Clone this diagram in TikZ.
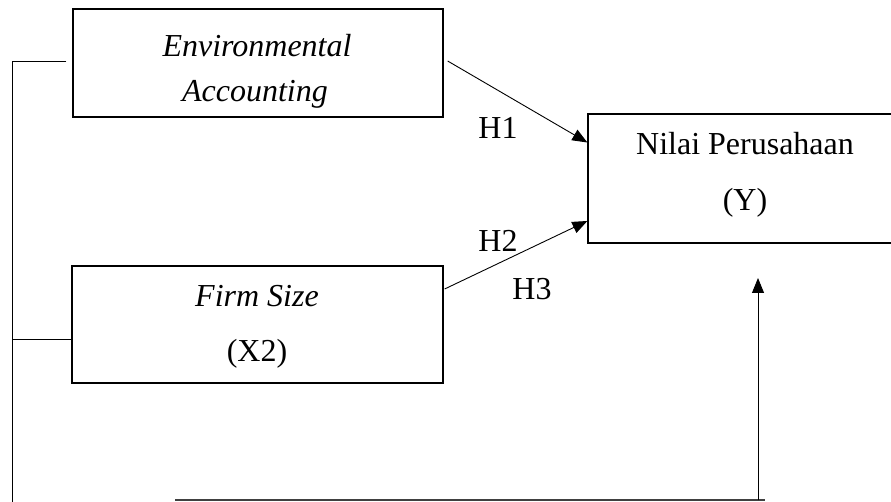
\documentclass[tikz,border=0pt]{standalone}
\usepackage{fontspec}
\setmainfont{Liberation Serif}
\usetikzlibrary{arrows.meta}
\begin{document}
\begin{tikzpicture}[x=1pt, y=-1pt, >={Triangle[length=15pt,width=12pt]},
    varbox/.style={draw, line width=1.3pt, inner sep=0pt},
    txt/.style={anchor=base, inner sep=0pt, font=\fontsize{32}{38}\selectfont},
    link/.style={line width=0.9pt}]
    \useasboundingbox (0,0) rectangle (891,502);
    \clip (0,0) rectangle (891,502);

    % Independent variables
    \node[varbox, minimum width=370pt, minimum height=108pt] (env) at (258,63) {};
    \node[txt] (envA) at (257,57) {\textit{Environmental}};
    \node[txt] (envB) at (255,102) {\textit{Accounting}};

    \node[varbox, minimum width=371pt, minimum height=117pt] (firm) at (257.5,324.5) {};
    \node[txt] (firmA) at (257,307) {\textit{Firm Size}};
    \node[txt] (firmB) at (257,362) {(X2)};

    % Dependent variable
    \node[varbox, minimum width=317pt, minimum height=129pt] (nilai) at (746.5,178.5) {};
    \node[txt] (nilaiA) at (745,155) {Nilai Perusahaan};
    \node[txt] (nilaiB) at (745,211) {(Y)};

    % Hypotheses
    \draw[->, link] ([xshift=4pt,yshift=2pt]env.east) -- ([yshift=36pt]nilai.west);
    \draw[->, link] ([xshift=1pt,yshift=35.5pt]firm.east) -- ([yshift=-42.5pt]nilai.west);
    \node[txt] (h1) at (498,139) {H1};
    \node[txt] (h2) at (498,252) {H2};
    \node[txt] (h3) at (532,300) {H3};

    % Simultaneous path
    \coordinate (railtop) at (12,61);
    \coordinate (railbot) at (12,502);
    \coordinate (firmjoin) at ([yshift=-14.5pt]firm.west);
    \coordinate (botL) at (175,500);
    \coordinate (botR) at (765,500);
    \coordinate (upstart) at (758,500);
    \coordinate (upend) at (758,278);
    \draw[link] ([xshift=-6pt,yshift=2pt]env.west) -- (railtop) -- (railbot);
    \draw[link] (firmjoin) -- (firmjoin -| railtop);
    \draw[link, line width=1.2pt, black!75] (botL) -- (botR);
    \draw[->, link] (upstart) -- (upend);
  \end{tikzpicture}
\end{document}
